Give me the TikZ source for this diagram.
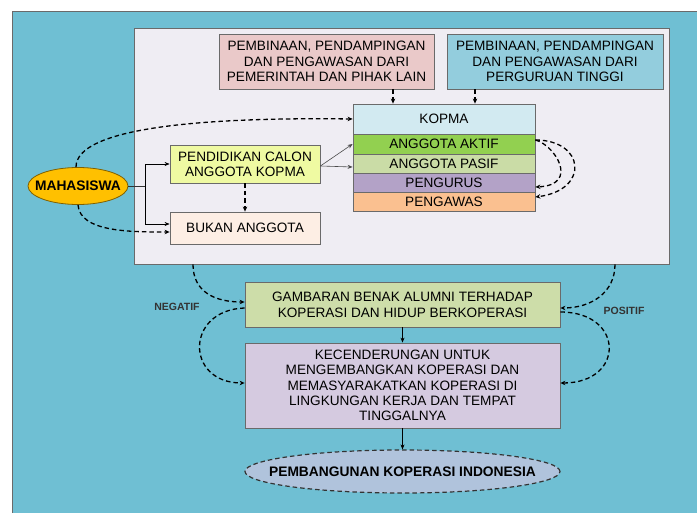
\documentclass[tikz,border=0pt]{standalone}
\usepackage{fontspec}
\setmainfont{Liberation Sans}
\usetikzlibrary{shapes.geometric,arrows.meta}
\definecolor{teal0}{HTML}{6FBFD3}
\definecolor{innerbg}{HTML}{EFEDF3}
\definecolor{bord}{HTML}{6A6A6A}
\definecolor{pinkc}{HTML}{EAC9C9}
\definecolor{bluec}{HTML}{93CDDD}
\definecolor{kopmac}{HTML}{D2EAF1}
\definecolor{aktifc}{HTML}{92D050}
\definecolor{pasifc}{HTML}{CADCA6}
\definecolor{pengurusc}{HTML}{B3A2C7}
\definecolor{pengawasc}{HTML}{FAC090}
\definecolor{pendc}{HTML}{EFFAA2}
\definecolor{bukanc}{HTML}{FDEEE4}
\definecolor{mhsc}{HTML}{FFC000}
\definecolor{gambc}{HTML}{CDDDA9}
\definecolor{kecc}{HTML}{D5CAE0}
\definecolor{pembc}{HTML}{B0C3DC}
\begin{document}
\begin{tikzpicture}[x=1pt,y=-1pt,
  box/.style={draw=bord,line width=0.8pt,rectangle,inner sep=0pt,align=center,
    font=\fontsize{13.6}{15.3}\selectfont},
  sol/.style={line width=0.6pt,-{Stealth[length=5pt,width=4pt]}},
  dsh/.style={line width=1.3pt,dash pattern=on 4.5pt off 3pt,-{Stealth[length=5pt,width=4.5pt]}},
  lbl/.style={font=\fontsize{10.5}{12}\selectfont\bfseries,text=black!80}]
\useasboundingbox (0,0) rectangle (697,513);
\fill[white] (0,0) rectangle (697,513);
\filldraw[fill=teal0,draw=bord,line width=0.8pt] (12,11) rectangle (699,515);
\node[box,fill=innerbg,minimum width=535pt,minimum height=236pt] (inner) at (401.5,146) {};
\node[box,fill=pinkc,minimum width=215pt,minimum height=55pt] (pink) at (326.5,61.5)
  {PEMBINAAN, PENDAMPINGAN\\DAN PENGAWASAN DARI\\PEMERINTAH DAN PIHAK LAIN};
\node[box,fill=bluec,minimum width=216pt,minimum height=55pt] (blue) at (555,61.5)
  {PEMBINAAN, PENDAMPINGAN\\DAN PENGAWASAN DARI\\PERGURUAN TINGGI};
\node[box,fill=kopmac,minimum width=182pt,minimum height=30pt] (kopma) at (444,119) {KOPMA};
\node[box,fill=aktifc,minimum width=182pt,minimum height=20pt] (aktif) at (444,144) {ANGGOTA AKTIF};
\node[box,fill=pasifc,minimum width=182pt,minimum height=19pt] (pasif) at (444,163.5) {ANGGOTA PASIF};
\node[box,fill=pengurusc,minimum width=182pt,minimum height=19pt] (pengurus) at (444,182.5) {PENGURUS};
\node[box,fill=pengawasc,minimum width=182pt,minimum height=19pt] (pengawas) at (444,201.5) {PENGAWAS};
\node[box,fill=pendc,minimum width=150pt,minimum height=38pt] (pend) at (245,164)
  {PENDIDIKAN CALON\\ANGGOTA KOPMA};
\node[box,fill=bukanc,minimum width=150pt,minimum height=32pt] (bukan) at (245,228) {BUKAN ANGGOTA};
\node[box,ellipse,fill=mhsc,draw=black!50!mhsc,minimum width=100pt,minimum height=37pt,
  font=\fontsize{13.8}{15}\selectfont\bfseries] (mhs) at (78,186) {\makebox[0pt]{MAHASISWA}};
\node[box,fill=gambc,minimum width=315pt,minimum height=45pt,
  font=\fontsize{13.6}{16}\selectfont] (gamb) at (402.5,304.5)
  {GAMBARAN BENAK ALUMNI TERHADAP\\KOPERASI DAN HIDUP BERKOPERASI};
\node[box,fill=kecc,minimum width=315pt,minimum height=85pt] (kec) at (402.5,385.5)
  {KECENDERUNGAN UNTUK\\MENGEMBANGKAN KOPERASI DAN\\MEMASYARAKATKAN KOPERASI DI\\LINGKUNGAN KERJA DAN TEMPAT\\TINGGALNYA};
\node[box,ellipse,fill=pembc,draw=black!80,dash pattern=on 4.5pt off 3pt,line width=1.2pt,
  minimum width=315pt,minimum height=43pt,font=\fontsize{13.8}{15}\selectfont\bfseries]
  (pemb) at (402.5,471.5) {\makebox[0pt]{PEMBANGUNAN KOPERASI INDONESIA}};
\node[lbl] (neg) at (177,307) {NEGATIF};
\node[lbl] (pos) at (624,311) {POSITIF};
\coordinate (split) at (145,186);
% solid connectors
\draw[line width=0.6pt,draw=black!80] (mhs.east) -- (split);
\draw[sol] (split) |- (pend.west);
\draw[sol] (split) |- ([yshift=4pt]bukan.west);
\draw[sol,draw=black!70] ([yshift=-2pt]pend.east) -- (aktif.west);
\draw[sol,draw=black!70] ([yshift=-2pt]pend.east) -- ([yshift=-3.5pt]pasif.west);
\draw[sol] (gamb) -- (kec);
\draw[sol] (kec) -- (pemb);
% dashed connectors
\draw[dsh] (pend.south) -- (bukan.north);
\draw[dsh] ([xshift=-2pt]mhs.north) .. controls (76,128) and (200,117) .. (kopma.west);
\draw[dsh] (mhs.south) .. controls (80,232) and (130,232) .. ([yshift=-4pt]bukan.west);
\draw[dsh] ([xshift=66.5pt]pink.south) -- ([xshift=-51pt]kopma.north);
\draw[dsh] ([xshift=-80pt]blue.south) -- ([xshift=31pt]kopma.north);
\draw[dsh] ([yshift=4pt]aktif.east) .. controls (585,140) and (590,190) .. ([yshift=4.5pt]pengawas.east);
\draw[dsh] ([yshift=4pt]aktif.east) .. controls (555,145) and (580,185) .. ([yshift=-4.5pt]pengurus.east);
\draw[dsh] ([xshift=-208.5pt]inner.south) .. controls (193,292) and (215,302) .. ([yshift=2.5pt]gamb.west);
\draw[dsh] ([yshift=-3.5pt]gamb.west) .. controls (185,310) and (185,383) .. ([yshift=2.5pt]kec.west);
\draw[dsh] ([xshift=213.5pt]inner.south) .. controls (615,292) and (592,308) .. ([yshift=-3.5pt]gamb.east);
\draw[dsh] ([yshift=-7.5pt]gamb.east) .. controls (625,312) and (625,383) .. ([yshift=2.5pt]kec.east);
\end{tikzpicture}
\end{document}
